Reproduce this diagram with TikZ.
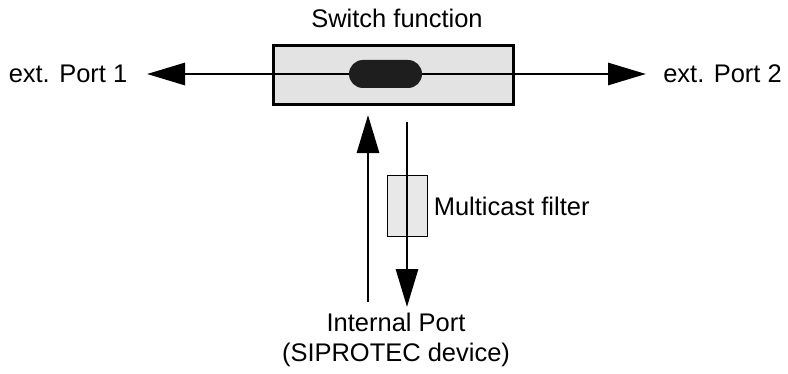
\documentclass[tikz,border=0pt]{standalone}
\usepackage{fontspec}
\setmainfont{Liberation Sans}
\usepackage{tikz}
\usetikzlibrary{positioning}
\usetikzlibrary{arrows.meta}
\usetikzlibrary{shapes.misc}
\definecolor{boxgray}{HTML}{E3E3E3}
\definecolor{filtergray}{HTML}{E8E8E8}
\definecolor{contactblack}{HTML}{1E1E1E}
\tikzstyle{switchBox} = [rectangle, draw, fill=boxgray, line width=1.7pt, inner sep=0, minimum width=4.8cm, minimum height=1.18cm]
\tikzstyle{contact} = [rounded rectangle, fill=contactblack, inner sep=0, minimum width=1.46cm, minimum height=0.56cm]
\tikzstyle{filterBox} = [rectangle, draw, fill=filtergray, line width=1.1pt, inner sep=0, minimum width=0.8cm, minimum height=1.22cm]
\tikzstyle{label} = [font=\fontsize{14.5pt}{16.8pt}\selectfont, inner sep=0]
\tikzstyle{flow} = [line width=1.7pt, -{Triangle[length=0.76cm, width=0.44cm]}]

\begin{document}
\begin{tikzpicture}
    \useasboundingbox (0,0) rectangle (15.76,-7.48);
    \node (switch) at (7.87,-1.5) [switchBox] {};
    \node (title) at (7.94,-0.36) [label] {Switch function};
    \node (port1) at (1.36,-1.48) [label] {ext. Port 1};
    \node (port2) at (14.45,-1.48) [label] {ext. Port 2};
    \node (filter) at (8.15,-4.12) [filterBox] {};
    \node (filterText) [right=0.1cm of filter, label] {Multicast filter};
    \node (internal) at (7.92,-6.8) [label, align=center] {Internal Port\\(SIPROTEC device)};

    \coordinate (contactMid) at (7.71,-1.48);
    \coordinate (tip1) at (2.94,-1.48);
    \coordinate (tip2) at (12.92,-1.48);
    \coordinate (upStart) at (7.36,-6.04);
    \coordinate (upEnd) at (7.36,-2.3);
    \coordinate (downStart) at (8.14,-2.44);
    \coordinate (downEnd) at (8.14,-6.14);

    \draw [flow] (contactMid) -- (tip1);
    \draw [flow] (contactMid) -- (tip2);
    \node (contact) at (contactMid) [contact] {};
    \draw [flow] (upStart) -- (upEnd);
    \draw [flow] (downStart) -- (downEnd);
\end{tikzpicture}
\end{document}
